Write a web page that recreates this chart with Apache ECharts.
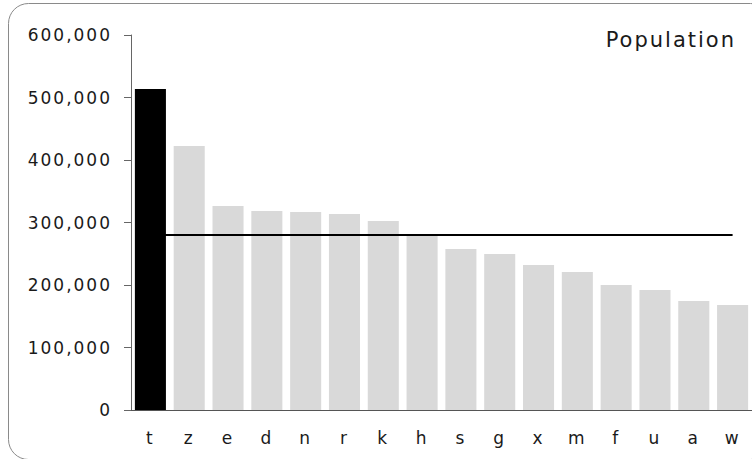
<!DOCTYPE html>
<html>
<head>
<meta charset="utf-8">
<script src="https://cdn.jsdelivr.net/npm/echarts@6/dist/echarts.min.js"></script>
<style>
  html, body { margin: 0; padding: 0; background: #fff; }
  #chart { width: 752px; height: 459px; }
  #chart text { letter-spacing: 2px; }
</style>
</head>
<body>
<div id="chart"></div>
<script>
// values
const categories = ["t", "z", "e", "d", "n", "r", "k", "h", "s", "g", "x", "m", "f", "u", "a", "w"];
const population = [513600, 422400, 326400, 318400, 316800, 313600, 302400, 278400,
                    257600, 249600, 232000, 220800, 200000, 192000, 174400, 168000];
const yTicks = [0, 100000, 200000, 300000, 400000, 500000, 600000];

const mean = population.reduce((a, b) => a + b, 0) / population.length;
const font = "DejaVu Sans";

const chart = echarts.init(document.getElementById("chart"), null, { renderer: "svg" });

const option = {
  animation: false,
  backgroundColor: "#fff",
  title: {
    text: "Population",
    right: 31,
    top: 24,
    textStyle: { fontFamily: font, fontSize: 21, fontWeight: "normal", color: "#1a1a1a" },
  },
  graphic: [
    {
      type: "rect",
      shape: { x: 8.5, y: 3.5, width: 762, height: 456, r: 20 },
      style: { fill: "none", stroke: "#8a8a8a", lineWidth: 1 },
      silent: true,
    },
  ],
  grid: { left: 131, right: 0, top: 35, bottom: 49 },
  xAxis: {
    type: "category",
    data: categories,
    axisLine: { lineStyle: { color: "#555", width: 1 } },
    axisTick: { show: false },
    axisLabel: { fontFamily: font, fontSize: 17, color: "#1a1a1a", margin: 19 },
  },
  yAxis: {
    type: "value",
    min: yTicks[0],
    max: yTicks[yTicks.length - 1],
    interval: yTicks[1] - yTicks[0],
    axisLine: { show: true, lineStyle: { color: "#666", width: 1 } },
    axisTick: { show: true, length: 7, lineStyle: { color: "#666" } },
    splitLine: { show: false },
    axisLabel: {
      fontFamily: font,
      fontSize: 17,
      color: "#1a1a1a",
      margin: 19,
      formatter: (v) => v.toLocaleString("en-US"),
    },
  },
  series: [
    {
      type: "bar",
      name: "Population",
      barCategoryGap: "20%",
      data: population.map((v, i) =>
        i === 0 ? { value: v, itemStyle: { color: "#000" } } : v
      ),
      itemStyle: { color: "#d9d9d9" },
      markLine: {
        silent: true,
        symbol: "none",
        label: { show: false },
        lineStyle: { color: "#000", width: 2, type: "solid" },
        data: [[
          { coord: [categories[0], mean] },
          { coord: [categories[categories.length - 1], mean] },
        ]],
      },
    },
  ],
};

chart.setOption(option);
</script>
</body>
</html>
